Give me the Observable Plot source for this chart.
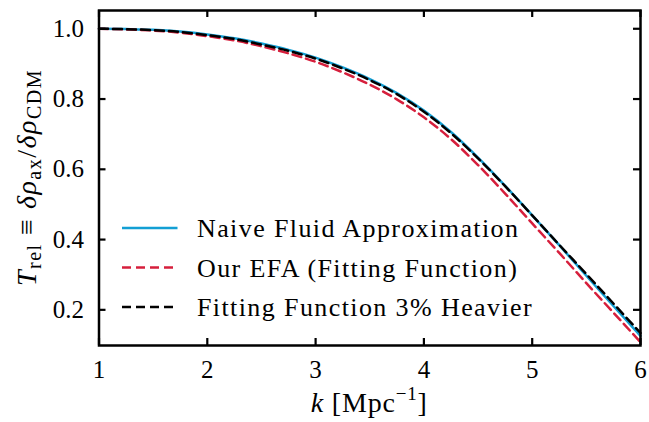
<!DOCTYPE html>
<html>
<head>
<meta charset="utf-8">
<script src="https://cdn.jsdelivr.net/npm/d3@7"></script>
<script src="https://cdn.jsdelivr.net/npm/@observablehq/plot@0.6"></script>
<style>
  html, body { margin: 0; padding: 0; background: #ffffff; }
  #chart svg { display: block; }
</style>
</head>
<body>
<div id="chart"></div>
<script>
// ---- data ----
const kValues = [1.0, 1.25, 1.5, 1.75, 2.0, 2.25, 2.5, 2.75, 3.0, 3.25, 3.5, 3.75, 4.0, 4.25, 4.5, 4.75, 5.0, 5.25, 5.5, 5.75, 6.0];
const naiveFluid = [1.000, 0.999, 0.997, 0.992, 0.984, 0.973, 0.958, 0.940, 0.918, 0.890, 0.857, 0.817, 0.767, 0.706, 0.633, 0.553, 0.469, 0.384, 0.297, 0.211, 0.126];
const efaFit     = [1.000, 0.998, 0.995, 0.989, 0.979, 0.967, 0.950, 0.930, 0.906, 0.876, 0.841, 0.799, 0.748, 0.686, 0.612, 0.531, 0.446, 0.362, 0.276, 0.192, 0.108];
const fitHeavier = [1.000, 0.999, 0.996, 0.991, 0.982, 0.971, 0.955, 0.937, 0.915, 0.887, 0.854, 0.814, 0.764, 0.703, 0.631, 0.552, 0.469, 0.385, 0.302, 0.218, 0.134];
const seriesNames = ["Naive Fluid Approximation", "Our EFA (Fitting Function)", "Fitting Function 3% Heavier"];
const xTicks = [1, 2, 3, 4, 5, 6];
const yTicks = [0.2, 0.4, 0.6, 0.8, 1.0];

// ---- build table ----
const rows = kValues.map((k, i) => ({k, naive: naiveFluid[i], efa: efaFit[i], heavy: fitHeavier[i]}));

const W = 649, H = 422;
const mL = 98.5, mR = 9, mT = 10, mB = 77;
const frameW = W - mL - mR, frameH = H - mT - mB;
const FONT = "'Liberation Serif', 'DejaVu Serif', serif";
const blue = "#139fd4", red = "#d61f3c", black = "#000000";
const dash = "9,5";
const tickLen = 7;

const plot = Plot.plot({
  width: W, height: H,
  marginLeft: mL, marginRight: mR, marginTop: mT, marginBottom: mB,
  style: {fontFamily: FONT, fontSize: "25px", background: "#ffffff", color: "#000"},
  x: {domain: [1, 6], label: null},
  y: {domain: [0.0985, 1.052], label: null},
  marks: [
    Plot.line(rows, {x: "k", y: "naive", stroke: blue, strokeWidth: 2.5, curve: "monotone-x"}),
    Plot.line(rows, {x: "k", y: "efa", stroke: red, strokeWidth: 2.5, strokeDasharray: dash, curve: "monotone-x"}),
    Plot.line(rows, {x: "k", y: "heavy", stroke: black, strokeWidth: 2.5, strokeDasharray: dash, curve: "monotone-x"}),
    // inward ticks on all four sides
    Plot.tickX(xTicks, {x: d => d, insetTop: frameH - tickLen, stroke: black, strokeWidth: 2.2}),
    Plot.tickX(xTicks, {x: d => d, insetBottom: frameH - tickLen, stroke: black, strokeWidth: 2.2}),
    Plot.tickY(yTicks, {y: d => d, insetRight: frameW - tickLen, stroke: black, strokeWidth: 2.2}),
    Plot.tickY(yTicks, {y: d => d, insetLeft: frameW - tickLen, stroke: black, strokeWidth: 2.2}),
    Plot.axisX(xTicks, {tickSize: 0, tickPadding: 15, fontSize: 25, tickFormat: d => String(d), label: null}),
    Plot.axisY(yTicks, {tickSize: 0, tickPadding: 15, fontSize: 25, tickFormat: d => d.toFixed(1), label: null}),
    Plot.frame({stroke: black, strokeWidth: 2.5})
  ]
});
document.getElementById("chart").appendChild(plot);

const svg = d3.select(plot);
const xs = plot.scale("x"), ys = plot.scale("y");

// ---- x axis label: k [Mpc^-1] ----
const xCenter = (xs.apply(1) + xs.apply(6)) / 2;
const xl = svg.append("text")
  .attr("x", xCenter).attr("y", 412)
  .attr("text-anchor", "middle")
  .style("font-family", FONT).style("font-size", "28px")
  .style("letter-spacing", "0.8px").attr("fill", "#000");
xl.append("tspan").attr("font-style", "italic").text("k");
xl.append("tspan").text(" [Mpc");
xl.append("tspan").attr("font-size", "19px").attr("baseline-shift", "12px").text("\u22121");
xl.append("tspan").text("]");

// ---- y axis label: T_rel ≡ δρ_ax/δρ_CDM ----
const yCenter = (ys.apply(ys.domain[0]) + ys.apply(ys.domain[1])) / 2;
const yl = svg.append("text")
  .attr("transform", `translate(36,${yCenter}) rotate(-90)`)
  .attr("text-anchor", "middle")
  .style("font-family", FONT).style("font-size", "28px")
  .style("letter-spacing", "1.5px").attr("fill", "#000");
yl.append("tspan").attr("font-style", "italic").text("T");
yl.append("tspan").attr("font-size", "20px").attr("baseline-shift", "-5px").text("rel");
yl.append("tspan").text("\u2005\u2261\u2005");
yl.append("tspan").attr("font-style", "italic").text("\u03b4\u03c1");
yl.append("tspan").attr("font-size", "20px").attr("baseline-shift", "-5px").text("ax");
yl.append("tspan").text("/");
yl.append("tspan").attr("font-style", "italic").text("\u03b4\u03c1");
yl.append("tspan").attr("font-size", "20px").attr("baseline-shift", "-5px").text("CDM");

// ---- legend (no frame) ----
const legendItems = [
  {name: seriesNames[0], color: blue, dash: null},
  {name: seriesNames[1], color: red, dash: dash},
  {name: seriesNames[2], color: black, dash: dash}
];
const lg = svg.append("g").attr("text-anchor", "start");
legendItems.forEach((it, i) => {
  const cy = 228 + i * 39.5;
  lg.append("line")
    .attr("x1", mL + 23.5).attr("x2", mL + 79)
    .attr("y1", cy).attr("y2", cy)
    .attr("stroke", it.color).attr("stroke-width", 2.5)
    .attr("stroke-dasharray", it.dash);
  lg.append("text")
    .attr("x", mL + 98.5).attr("y", cy + 9)
    .attr("text-anchor", "start")
    .style("font-family", FONT).style("font-size", "26px")
    .style("letter-spacing", "1.4px")
    .attr("fill", "#000")
    .text(it.name);
});
</script>
</body>
</html>
